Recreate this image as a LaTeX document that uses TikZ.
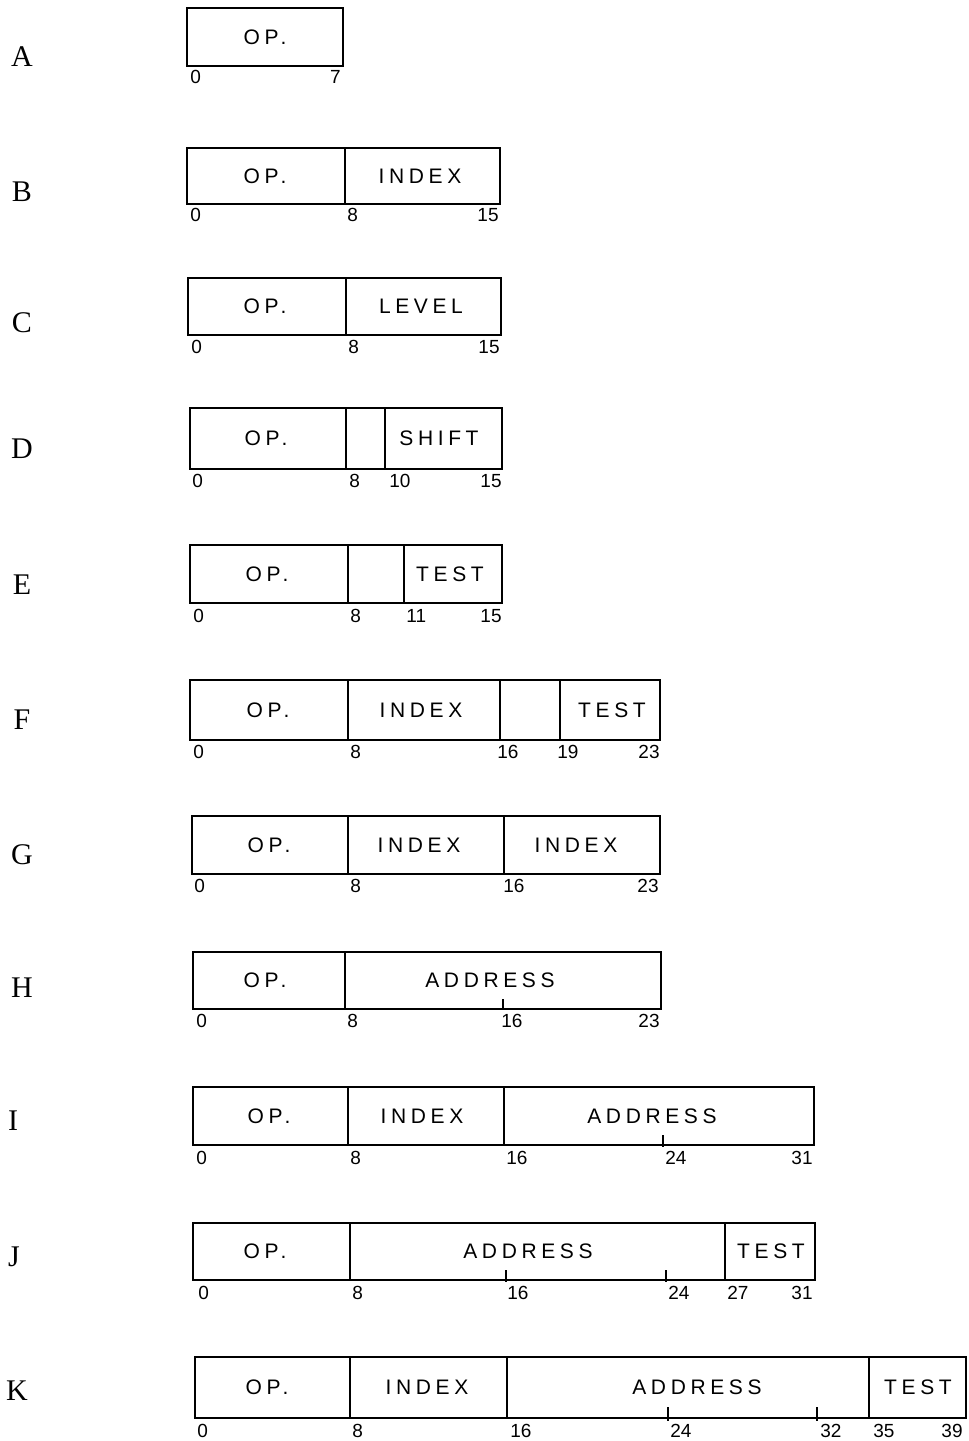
\documentclass[tikz,border=0pt]{standalone}
\usepackage{fontspec}
\newfontfamily\handfont[LetterSpace=22]{Liberation Sans}
\newfontfamily\numfont{Liberation Sans}
\newfontfamily\letterfont{Liberation Serif}
\tikzset{
  fld/.style={draw, line width=0.75pt, inner sep=0pt, outer sep=0pt},
  fldtext/.style={font=\handfont\fontsize{10.5}{12}\selectfont, inner sep=0pt},
  bitnum/.style={font=\numfont\fontsize{9.5}{11}\selectfont, inner sep=0pt, anchor=north west},
  bitnumr/.style={bitnum, anchor=north east},
  rowletter/.style={font=\letterfont\fontsize{15}{17}\selectfont, inner sep=0pt},
  tickmark/.style={line width=0.75pt}
}
% field with a label: name, left, right, top, bottom, label x, label
\newcommand\fieldbox[7]{%
  \node[fld, minimum width={(#3-#2)*0.5pt}, minimum height={(#5-#4)*0.5pt}]
    (#1) at ({(#2+#3)/2},{(#4+#5)/2}) {};
  \node[fldtext] (#1-t) at (#6,{(#4+#5)/2}) {#7};}
% unlabelled field: name, left, right, top, bottom
\newcommand\blankbox[5]{%
  \node[fld, minimum width={(#3-#2)*0.5pt}, minimum height={(#5-#4)*0.5pt}]
    (#1) at ({(#2+#3)/2},{(#4+#5)/2}) {};}
\begin{document}
\begin{tikzpicture}[x=0.5pt,y=-0.5pt]
\useasboundingbox (0,0) rectangle (969,1441);

% A
\node[rowletter] (A) at (22,57) {A};
\fieldbox{A1}{187}{343}{8}{66}{265}{OP.}
\node[bitnum] (A-n0) at (190,70) {0};
\node[bitnumr] (A-n7) at (341,70) {7};

% B
\node[rowletter] (B) at (22,192) {B};
\fieldbox{B1}{187}{345}{148}{204}{265}{OP.}
\fieldbox{B2}{345}{500}{148}{204}{420}{INDEX}
\node[bitnum] (B-n0) at (190,208) {0};
\node[bitnum] (B-n8) at (347,208) {8};
\node[bitnumr] (B-n15) at (499,208) {15};

% C
\node[rowletter] (C) at (22,323) {C};
\fieldbox{C1}{188}{346}{278}{335}{265}{OP.}
\fieldbox{C2}{346}{501}{278}{335}{421}{LEVEL}
\node[bitnum] (C-n0) at (191,340) {0};
\node[bitnum] (C-n8) at (348,340) {8};
\node[bitnumr] (C-n15) at (500,340) {15};

% D
\node[rowletter] (D) at (22,449) {D};
\fieldbox{D1}{190}{346}{408}{469}{266}{OP.}
\blankbox{D2}{346}{385}{408}{469}
\fieldbox{D3}{385}{502}{408}{469}{439}{SHIFT}
\node[bitnum] (D-n0) at (192,474) {0};
\node[bitnum] (D-n8) at (349,474) {8};
\node[bitnum] (D-n10) at (389,474) {10};
\node[bitnumr] (D-n15) at (502,474) {15};

% E
\node[rowletter] (E) at (22,585) {E};
\fieldbox{E1}{190}{348}{545}{603}{267}{OP.}
\blankbox{E2}{348}{404}{545}{603}
\fieldbox{E3}{404}{502}{545}{603}{450}{TEST}
\node[bitnum] (E-n0) at (193,609) {0};
\node[bitnum] (E-n8) at (350,609) {8};
\node[bitnum] (E-n11) at (406,609) {11};
\node[bitnumr] (E-n15) at (502,609) {15};

% F
\node[rowletter] (F) at (22,720) {F};
\fieldbox{F1}{190}{348}{680}{740}{268}{OP.}
\fieldbox{F2}{348}{500}{680}{740}{421}{INDEX}
\blankbox{F3}{500}{560}{680}{740}
\fieldbox{F4}{560}{660}{680}{740}{612}{TEST}
\node[bitnum] (F-n0) at (193,745) {0};
\node[bitnum] (F-n8) at (350,745) {8};
\node[bitnum] (F-n16) at (497,745) {16};
\node[bitnum] (F-n19) at (557,745) {19};
\node[bitnumr] (F-n23) at (660,745) {23};

% G
\node[rowletter] (G) at (22,855) {G};
\fieldbox{G1}{192}{348}{816}{874}{269}{OP.}
\fieldbox{G2}{348}{504}{816}{874}{419}{INDEX}
\fieldbox{G3}{504}{660}{816}{874}{576}{INDEX}
\node[bitnum] (G-n0) at (194,879) {0};
\node[bitnum] (G-n8) at (350,879) {8};
\node[bitnum] (G-n16) at (503,879) {16};
\node[bitnumr] (G-n23) at (659,879) {23};

% H
\node[rowletter] (H) at (22,988) {H};
\fieldbox{H1}{193}{345}{952}{1009}{265}{OP.}
\fieldbox{H2}{345}{661}{952}{1009}{490}{ADDRESS}
\draw[tickmark] (503,999) -- (503,1009);
\node[bitnum] (H-n0) at (196,1014) {0};
\node[bitnum] (H-n8) at (347,1014) {8};
\node[bitnum] (H-n16) at (501,1014) {16};
\node[bitnumr] (H-n23) at (660,1014) {23};

% I
\node[rowletter] (I) at (13,1121) {I};
\fieldbox{I1}{193}{348}{1087}{1145}{269}{OP.}
\fieldbox{I2}{348}{504}{1087}{1145}{422}{INDEX}
\fieldbox{I3}{504}{814}{1087}{1145}{652}{ADDRESS}
\draw[tickmark] (663,1135) -- (663,1147);
\node[bitnum] (I-n0) at (196,1151) {0};
\node[bitnum] (I-n8) at (350,1151) {8};
\node[bitnum] (I-n16) at (506,1151) {16};
\node[bitnum] (I-n24) at (665,1151) {24};
\node[bitnumr] (I-n31) at (813,1151) {31};

% J
\node[rowletter] (J) at (14,1257) {J};
\fieldbox{J1}{193}{350}{1223}{1280}{265}{OP.}
\fieldbox{J2}{350}{725}{1223}{1280}{528}{ADDRESS}
\fieldbox{J3}{725}{815}{1223}{1280}{771}{TEST}
\draw[tickmark] (506,1270) -- (506,1282);
\draw[tickmark] (666,1270) -- (666,1282);
\node[bitnum] (J-n0) at (198,1286) {0};
\node[bitnum] (J-n8) at (352,1286) {8};
\node[bitnum] (J-n16) at (507,1286) {16};
\node[bitnum] (J-n24) at (668,1286) {24};
\node[bitnum] (J-n27) at (727,1286) {27};
\node[bitnumr] (J-n31) at (813,1286) {31};

% K
\node[rowletter] (K) at (17,1391) {K};
\fieldbox{K1}{195}{350}{1357}{1418}{267}{OP.}
\fieldbox{K2}{350}{507}{1357}{1418}{427}{INDEX}
\fieldbox{K3}{507}{869}{1357}{1418}{697}{ADDRESS}
\fieldbox{K4}{869}{966}{1357}{1418}{918}{TEST}
\draw[tickmark] (668,1407) -- (668,1421);
\draw[tickmark] (817,1407) -- (817,1421);
\node[bitnum] (K-n0) at (197,1424) {0};
\node[bitnum] (K-n8) at (352,1424) {8};
\node[bitnum] (K-n16) at (510,1424) {16};
\node[bitnum] (K-n24) at (670,1424) {24};
\node[bitnum] (K-n32) at (820,1424) {32};
\node[bitnum] (K-n35) at (873,1424) {35};
\node[bitnumr] (K-n39) at (963,1424) {39};
\end{tikzpicture}
\end{document}
